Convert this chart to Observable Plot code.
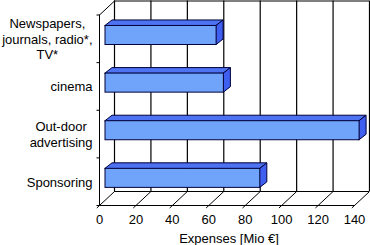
<!DOCTYPE html>
<html>
<head>
<meta charset="utf-8">
<script src="https://cdn.jsdelivr.net/npm/d3@7"></script>
<script src="https://cdn.jsdelivr.net/npm/@observablehq/plot@0.6"></script>
<style>
  html, body { margin: 0; padding: 0; background: #fff; }
</style>
</head>
<body>
<div id="chart"></div>
<script>
// ---- data (top to bottom) ----
const categories = ["Newspapers, journals, radio*, TV*", "cinema", "Out-door advertising", "Sponsoring"];
const labels = ["Newspapers,\njournals, radio*,\nTV*", "cinema", "Out-door\nadvertising", "Sponsoring"];
const values = [61, 65, 139.5, 85];
const xTicks = [0, 20, 40, 60, 80, 100, 120, 140];
const axisLabel = "Expenses [Mio €]";

// ---- layout (pixels) ----
const W = 370, H = 245;
const mLeft = 99, mRight = 16, mTop = 14.5, mBottom = 40;
const xMax = 140, nCat = categories.length;
const kx = (W - mLeft - mRight) / xMax;        // px per x unit
const ky = (H - mBottom - mTop) / nCat;        // px per category band
const DX = 15 / kx, DY = 14 / ky;              // box depth in data units
const TX = 7 / kx, TY = 5.5 / ky;              // bar depth in data units
const barLo = 0.37, barHi = 0.77;              // bar front face within band
const barShift = 6;                            // px shift of bar front face
const ext = 2.5;                               // px tick extension below floor
const yTickLen = 3;                            // px y tick length

const font = "'Liberation Sans', Arial, Helvetica, sans-serif";
const ink = "#00003a";

const rows = categories.map((c, i) => {
  const idx = nCat - 1 - i;
  return {cat: c, label: labels[i], value: values[i], idx, y0: idx + barLo, y1: idx + barHi};
});
const topPts = rows.flatMap(r => [
  {cat: r.cat, y: r.y1, x1: 0, x2: r.value},
  {cat: r.cat, y: r.y1 + TY, x1: TX, x2: r.value + TX}
]);
const endPts = rows.flatMap(r => [
  {cat: r.cat, x: r.value, y1: r.y0, y2: r.y1},
  {cat: r.cat, x: r.value + TX, y1: r.y0 + TY, y2: r.y1 + TY}
]);

// text measurement: lines centred within each block, blocks right-aligned to the axis
const ctx = document.createElement("canvas").getContext("2d");
ctx.font = "13px " + font;
const blockWidth = s => Math.max(...s.split("\n").map(l => ctx.measureText(l).width));
const widths = labels.map(blockWidth);

const labelMarks = rows.map((r, i) => Plot.text([r], {
  x: () => 0, y: d => d.idx + 0.5, text: "label",
  textAnchor: "middle", lineAnchor: "middle", lineHeight: 1.2,
  fontSize: 13, fill: "#000",
  dx: -7 - widths[i] / 2
}));

const chart = Plot.plot({
  width: W, height: H,
  marginLeft: mLeft, marginRight: mRight, marginTop: mTop, marginBottom: mBottom,
  style: {fontFamily: font, fontSize: "13px", background: "#fff"},
  x: {domain: [0, xMax], range: [mLeft, W - mRight]},
  y: {domain: [0, nCat], range: [H - mBottom, mTop], axis: null},
  marks: [
    // category labels
    ...labelMarks,
    // back wall grid lines
    Plot.ruleX(xTicks, {x: t => t + DX, y1: DY, y2: nCat + DY, stroke: "#000", strokeWidth: 1.2}),
    // back wall top and floor back edge
    Plot.ruleY([nCat + DY], {x1: DX, x2: xMax + DX, stroke: "#000"}),
    Plot.ruleY([DY], {x1: DX, x2: xMax + DX, stroke: "#000"}),
    // floor diagonals (extended slightly below as ticks)
    Plot.link(xTicks, {
      x1: t => t - ext * (15 / 14) / kx, y1: () => -ext / ky,
      x2: t => t + DX, y2: () => DY, stroke: "#000"
    }),
    // front floor edge
    Plot.ruleY([0], {x1: 0, x2: xMax, stroke: "#000"}),
    // left wall
    Plot.ruleX([0], {y1: 0, y2: nCat, stroke: "#000"}),
    Plot.link([0], {x1: () => 0, y1: () => nCat, x2: () => DX, y2: () => nCat + DY, stroke: "#000"}),
    // y ticks at band boundaries
    Plot.link(d3.range(nCat + 1), {x1: () => -yTickLen / kx, x2: () => 0, y1: d => d, y2: d => d, stroke: "#000"}),
    // bars: top face, end face, front face
    Plot.areaX(topPts, {y: "y", x1: "x1", x2: "x2", z: "cat", fill: "#4d72f2", stroke: ink, strokeWidth: 1, dx: barShift}),
    Plot.areaY(endPts, {x: "x", y1: "y1", y2: "y2", z: "cat", fill: "#3f5ff0", stroke: ink, strokeWidth: 1, dx: barShift}),
    Plot.rect(rows, {x1: () => 0, x2: "value", y1: "y0", y2: "y1", fill: "#70a4fb", stroke: ink, strokeWidth: 1, dx: barShift}),
    // x axis labels
    Plot.axisX(xTicks, {tickSize: 0, tickPadding: 9, label: null, fontSize: 13, fill: "#000"}),
    Plot.text([axisLabel], {frameAnchor: "bottom", text: d => d, dy: 33, dx: 2, lineAnchor: "middle", fontSize: 13, fill: "#000"})
  ]
});
document.getElementById("chart").appendChild(chart);
</script>
</body>
</html>
